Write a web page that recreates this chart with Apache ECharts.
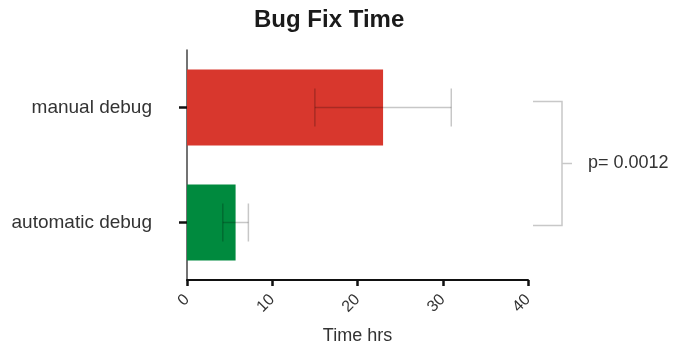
<!DOCTYPE html>
<html>
<head>
<meta charset="utf-8">
<script src="https://cdn.jsdelivr.net/npm/echarts@6/dist/echarts.min.js"></script>
<style>html,body{margin:0;padding:0;background:#fff}#c{width:689px;height:349px}</style>
</head>
<body>
<div id="c"></div>
<script>
var categories = ['automatic debug', 'manual debug'];
var means = [5.7, 23.0];
var sds = [1.5, 8.0];
var barColors = ['#008a3e', '#d8372d'];
var xTicks = [0, 10, 20, 30, 40];
var pValueText = 'p= 0.0012';

var chart = echarts.init(document.getElementById('c'));
var font = 'Liberation Sans, Arial, sans-serif';

var option = {
  animation: false,
  title: {
    text: 'Bug Fix Time', left: 249, top: 3,
    textStyle: { fontFamily: font, fontSize: 24, fontWeight: 'bold', color: '#1a1a1a' }
  },
  grid: { left: 187, right: 161, top: 50, bottom: 69, outerBoundsMode: 'none' },
  xAxis: {
    type: 'value', min: xTicks[0], max: xTicks[xTicks.length - 1], interval: 10,
    name: 'Time hrs', nameLocation: 'middle', nameGap: 47,
    nameTextStyle: { fontFamily: font, fontSize: 18, color: '#333' },
    axisLine: { show: true, lineStyle: { color: '#111', width: 2 } },
    axisTick: { show: true, length: 6, lineStyle: { color: '#111', width: 2.5 } },
    axisLabel: { rotate: 45, margin: 17, fontFamily: font, fontSize: 16, color: '#333' },
    splitLine: { show: false }
  },
  yAxis: {
    type: 'category', data: categories,
    axisLine: { show: true, lineStyle: { color: '#444', width: 1.5 } },
    axisTick: { show: true, alignWithLabel: true, length: 8, lineStyle: { color: '#111', width: 2.5 } },
    axisLabel: { margin: 35, fontFamily: font, fontSize: 19, color: '#333' }
  },
  series: [
    {
      type: 'bar', barWidth: '66%',
      data: means.map(function (v, i) { return { value: v, itemStyle: { color: barColors[i] } }; }),
      z: 2
    },
    {
      type: 'custom', z: 3,
      data: means.map(function (v, i) { return [i, v - sds[i], v + sds[i]]; }),
      renderItem: function (params, api) {
        var c = api.value(0);
        var lo = api.coord([api.value(1), c]);
        var hi = api.coord([api.value(2), c]);
        var h = 19;
        var st = { stroke: 'rgba(0,0,0,0.22)', lineWidth: 1.5 };
        return {
          type: 'group',
          children: [
            { type: 'line', shape: { x1: lo[0], y1: lo[1], x2: hi[0], y2: hi[1] }, style: st },
            { type: 'line', shape: { x1: lo[0], y1: lo[1] - h, x2: lo[0], y2: lo[1] + h }, style: st },
            { type: 'line', shape: { x1: hi[0], y1: hi[1] - h, x2: hi[0], y2: hi[1] + h }, style: st }
          ]
        };
      }
    }
  ]
};
chart.setOption(option);

// significance bracket between the two categories
var yTop = chart.convertToPixel({ yAxisIndex: 0 }, categories[1]);
var yBot = chart.convertToPixel({ yAxisIndex: 0 }, categories[0]);
var bx = 562, bl = 533;
var yt = yTop - 6, yb = yBot + 3, ym = (yt + yb) / 2;
var bst = { stroke: '#c8c8c8', lineWidth: 1.5 };
chart.setOption({
  graphic: [
    { type: 'polyline', shape: { points: [[bl, yt], [bx, yt], [bx, yb], [bl, yb]] }, style: Object.assign({ fill: null }, bst) },
    { type: 'line', shape: { x1: bx, y1: ym, x2: 572, y2: ym }, style: bst },
    { type: 'text', x: 588, y: ym, style: { text: pValueText, fontFamily: font, fontSize: 18, fill: '#333', verticalAlign: 'middle' } }
  ]
});
</script>
</body>
</html>
